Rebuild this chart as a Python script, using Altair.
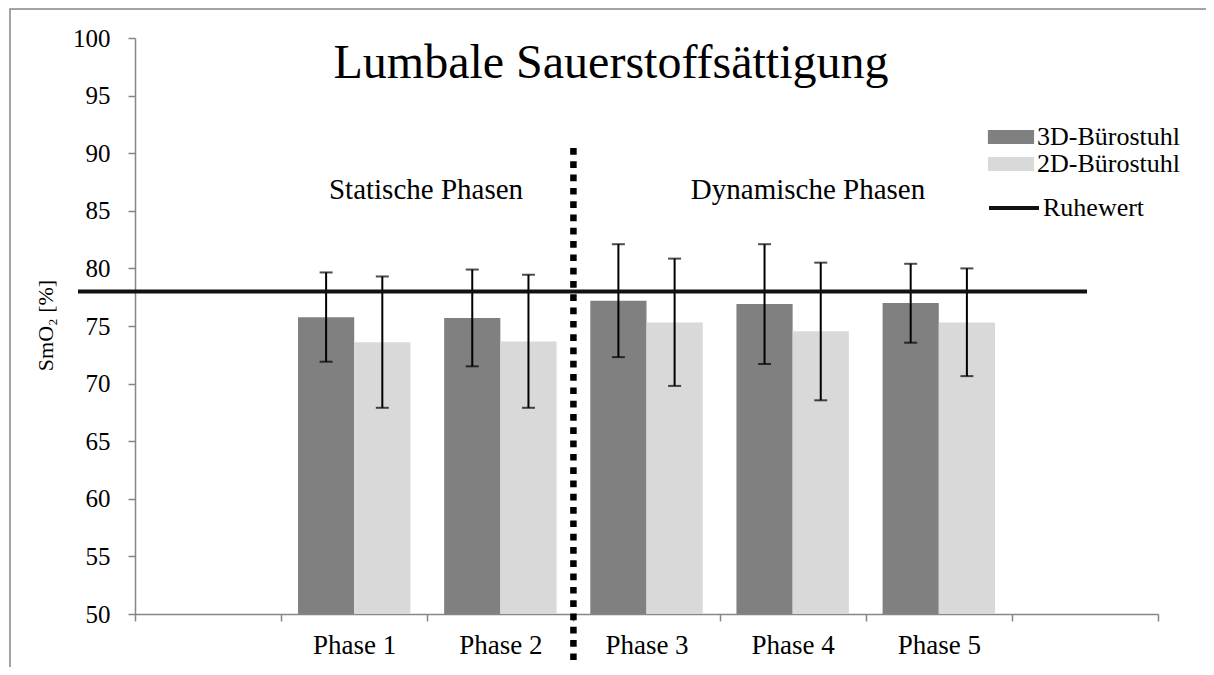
import altair as alt
import pandas as pd

# ---- data ----
phases = ["Phase 1", "Phase 2", "Phase 3", "Phase 4", "Phase 5"]
x_domain = [" ", *phases, "  "]          # blank slots at both ends (as in the original)
series = ["3D-Bürostuhl", "2D-Bürostuhl"]

mean_3d = [75.75, 75.7, 77.2, 76.9, 77.0]
low_3d = [71.9, 71.5, 72.3, 71.7, 73.55]
high_3d = [79.65, 79.9, 82.1, 82.1, 80.4]

mean_2d = [73.6, 73.65, 75.3, 74.55, 75.3]
low_2d = [67.9, 67.9, 69.8, 68.55, 70.65]
high_2d = [79.3, 79.45, 80.85, 80.5, 80.0]

rest_label = "Ruhewert"
rest_value = 78.0
divider_at = "Phase 3"       # dotted divider placed at the start of this slot

title_text = "Lumbale Sauerstoffsättigung"
section_texts = ["Statische Phasen", "Dynamische Phasen"]
y_title = "SmO₂ [%]"
y_ticks = [50, 55, 60, 65, 70, 75, 80, 85, 90, 95, 100]

# ---- tables ----
rows = []
for i, p in enumerate(phases):
    rows.append({"phase": p, "stuhl": series[0], "mean": mean_3d[i], "low": low_3d[i], "high": high_3d[i]})
    rows.append({"phase": p, "stuhl": series[1], "mean": mean_2d[i], "low": low_2d[i], "high": high_2d[i]})
df = pd.DataFrame(rows)
df_rest = pd.DataFrame({"label": [rest_label], "value": [rest_value]})
df_div = pd.DataFrame({"phase": [divider_at]})

FONT = "Liberation Serif"
GRAY = "#868686"
W, H = 1023, 576

xscale = alt.Scale(domain=x_domain, paddingInner=0, paddingOuter=0)
yscale = alt.Scale(domain=[50, 100], zero=False, nice=False)
offscale = alt.Scale(domain=series, paddingInner=0, paddingOuter=0.3)

x_axis = alt.Axis(
    title=None, labelAngle=0, tickBand="extent", labelFont=FONT, labelFontSize=27,
    labelColor="black", labelPadding=11, tickSize=7, tickColor=GRAY, tickWidth=1.5,
    domainColor=GRAY, domainWidth=1.5, grid=False,
)
y_axis = alt.Axis(
    values=y_ticks, title=y_title, titleFont=FONT, titleFontSize=22, titleFontWeight="normal",
    titleColor="black", titleAngle=-90, titleX=-90, titleY=287, titleAlign="center",
    titleBaseline="middle", labelFont=FONT, labelFontSize=25, labelColor="black",
    labelPadding=18, tickSize=7, tickColor=GRAY, tickWidth=1.5, domainColor=GRAY,
    domainWidth=1.5, grid=False,
)

X = lambda **kw: alt.X("phase:N", scale=xscale, axis=x_axis, sort=x_domain, **kw)
XO = lambda: alt.XOffset("stuhl:N", scale=offscale, sort=series)
Y = lambda f: alt.Y(f, scale=yscale, axis=y_axis)

base = alt.Chart(df)

bars = base.mark_bar().encode(
    x=X(),
    xOffset=XO(),
    y=Y("mean:Q"),
    y2=alt.datum(50),
    color=alt.Color(
        "stuhl:N",
        scale=alt.Scale(domain=series, range=["#808080", "#d9d9d9"]),
        legend=alt.Legend(
            title=None, orient="none", legendX=863, legendY=86,
            symbolType="M-3.3,-1L3.3,-1L3.3,1L-3.3,1Z", symbolSize=196,
            symbolStrokeWidth=0, labelOffset=13, rowPadding=1, padding=0,
            labelFont=FONT, labelFontSize=26, labelColor="black",
        ),
    ),
)

err = base.mark_rule(color="black", strokeWidth=2).encode(
    x=X(), xOffset=XO(), y=Y("low:Q"), y2="high:Q",
)
cap_hi = base.mark_tick(color="black", thickness=2, size=13).encode(
    x=X(), xOffset=XO(), y=Y("high:Q"),
)
cap_lo = base.mark_tick(color="black", thickness=2, size=13).encode(
    x=X(), xOffset=XO(), y=Y("low:Q"),
)

rest = alt.Chart(df_rest).mark_rule(strokeWidth=4).encode(
    y=Y("value:Q"),
    x=alt.value(-57),
    x2=alt.value(952),
    stroke=alt.Stroke(
        "label:N",
        scale=alt.Scale(domain=[rest_label], range=["#111111"]),
        legend=alt.Legend(
            title=None, orient="none", legendX=852, legendY=143,
            symbolType="stroke", symbolSize=2500, symbolStrokeWidth=4,
            labelOffset=2, padding=0, labelFont=FONT, labelFontSize=26, labelColor="black",
        ),
    ),
)

divider = alt.Chart(df_div).mark_rule(
    color="black", strokeWidth=6.5, strokeDash=[6.7, 6.6], strokeCap="butt"
).encode(
    x=X(bandPosition=0),
    y=alt.value(110),
    y2=alt.value(627),
)

title = alt.Chart(pd.DataFrame({"t": [title_text]})).mark_text(
    font=FONT, fontSize=48, color="black", align="center", baseline="alphabetic"
).encode(text="t:N", x=alt.value(476), y=alt.value(40))

sec1 = alt.Chart(pd.DataFrame({"t": [section_texts[0]]})).mark_text(
    font=FONT, fontSize=29, color="black", align="center", baseline="alphabetic"
).encode(text="t:N", x=alt.value(291), y=alt.value(161))
sec2 = alt.Chart(pd.DataFrame({"t": [section_texts[1]]})).mark_text(
    font=FONT, fontSize=29, color="black", align="center", baseline="alphabetic"
).encode(text="t:N", x=alt.value(673), y=alt.value(161))

frame = alt.Chart(pd.DataFrame({"f": [0]})).mark_rect(
    fill=None, stroke=GRAY, strokeWidth=1.5
).encode(x=alt.value(-125), x2=alt.value(1300), y=alt.value(-29), y2=alt.value(700))

chart = alt.layer(
    frame, bars, err, cap_hi, cap_lo, rest, divider, title, sec1, sec2
).properties(
    width=W, height=H,
    padding={"left": 127, "top": 30, "right": 48, "bottom": 53},
    autosize=alt.AutoSizeParams(type="none"),
    background="white",
).configure_view(stroke=None)

chart.save("out.html", embed_options={"renderer": "svg", "actions": False})
